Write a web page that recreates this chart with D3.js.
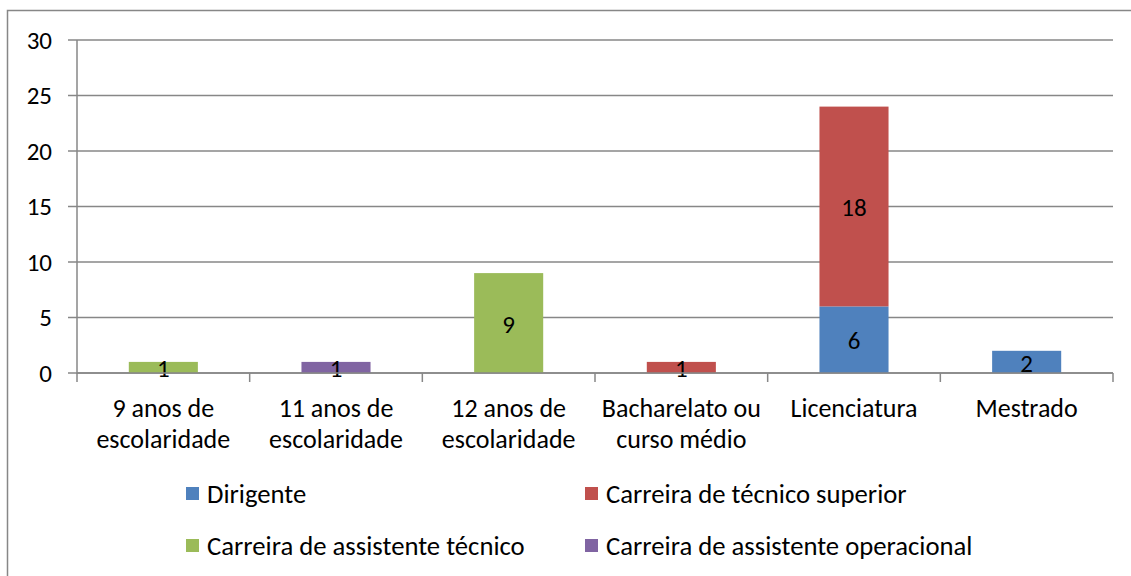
<!DOCTYPE html>
<html>
<head>
<meta charset="utf-8">
<script src="https://cdn.jsdelivr.net/npm/d3@7"></script>
<style>
  body { margin: 0; background: #fff; }
  text { font-family: Carlito, Calibri, "Liberation Sans", sans-serif; fill: #000; }
</style>
</head>
<body>
<script>
// categories and series
var categories = ["9 anos de|escolaridade", "11 anos de|escolaridade", "12 anos de|escolaridade",
                  "Bacharelato ou|curso médio", "Licenciatura", "Mestrado"];
var seriesNames = ["Dirigente", "Carreira de técnico superior", "Carreira de assistente técnico", "Carreira de assistente operacional"];
var seriesColors = ["#4f81bd", "#c0504d", "#9bbb59", "#8064a2"];
var dirigente = [0, 0, 0, 0, 6, 2];
var tecSuperior = [0, 0, 0, 1, 18, 0];
var assistTecnico = [1, 0, 9, 0, 0, 0];
var assistOperacional = [0, 1, 0, 0, 0, 0];
var yTicks = [0, 5, 10, 15, 20, 25, 30];

var width = 1131, height = 576;
var margin = {top: 40, left: 77, right: 18, bottom: 203};
var plot_w = width - margin.left - margin.right;
var plot_h = height - margin.top - margin.bottom;

var svg = d3.select("body").append("svg")
    .attr("width", width)
    .attr("height", height);

// outer border (only top/left visible in the original)
svg.append("rect")
    .attr("x", 7.5).attr("y", 10.5)
    .attr("width", width + 10).attr("height", height + 10)
    .attr("fill", "none").attr("stroke", "#878787").attr("stroke-width", 1.5);

var g = svg.append("g").attr("transform", "translate(" + margin.left + "," + margin.top + ")");

var xScale = d3.scaleBand().domain(d3.range(categories.length)).range([0, plot_w]).paddingInner(0.6).paddingOuter(0.3);
var xBound = d3.scaleLinear().domain([0, categories.length]).range([0, plot_w]);
var yScale = d3.scaleLinear().domain([0, 30]).range([plot_h, 0]);

// gridlines + y ticks
g.selectAll(".grid").data(yTicks).enter().append("line")
    .attr("x1", -9).attr("x2", plot_w)
    .attr("y1", function(d) { return yScale(d); })
    .attr("y2", function(d) { return yScale(d); })
    .attr("stroke", "#878787").attr("stroke-width", 1.5);

g.selectAll(".ylab").data(yTicks).enter().append("text")
    .attr("x", -25).attr("y", function(d) { return yScale(d); })
    .attr("dy", "0.35em").attr("text-anchor", "end")
    .style("font-size", "25px")
    .text(function(d) { return d; });

// y axis line
g.append("line").attr("x1", 0).attr("x2", 0).attr("y1", 0).attr("y2", plot_h + 1)
    .attr("stroke", "#878787").attr("stroke-width", 1.5);

// category separator ticks
g.selectAll(".xtick").data(d3.range(categories.length + 1)).enter().append("line")
    .attr("x1", function(d) { return xBound(d); })
    .attr("x2", function(d) { return xBound(d); })
    .attr("y1", plot_h).attr("y2", plot_h + 9)
    .attr("stroke", "#878787").attr("stroke-width", 1.5);

// stacked data
var table = categories.map(function(c, i) {
  return {i: i, s0: dirigente[i], s1: tecSuperior[i], s2: assistTecnico[i], s3: assistOperacional[i]};
});
var stack = d3.stack().keys(["s0", "s1", "s2", "s3"])(table);

stack.forEach(function(layer, k) {
  layer.forEach(function(d) {
    var v = d[1] - d[0];
    if (v <= 0) return;
    var x = xScale(d.data.i);
    g.append("rect")
        .attr("x", x).attr("width", xScale.bandwidth())
        .attr("y", yScale(d[1])).attr("height", yScale(d[0]) - yScale(d[1]))
        .attr("fill", seriesColors[k]);
    g.append("text")
        .attr("x", x + xScale.bandwidth() / 2)
        .attr("y", (yScale(d[0]) + yScale(d[1])) / 2 + 1)
        .attr("dy", "0.35em").attr("text-anchor", "middle")
        .style("font-size", "25px")
        .text(v);
  });
});

// x axis line (drawn over bars)
g.append("line").attr("x1", 0).attr("x2", plot_w).attr("y1", plot_h).attr("y2", plot_h)
    .attr("stroke", "#878787").attr("stroke-width", 1.5);

// category labels
categories.forEach(function(c, i) {
  var lines = c.split("|");
  var t = g.append("text")
      .attr("x", xScale(i) + xScale.bandwidth() / 2)
      .attr("y", plot_h + 44)
      .attr("text-anchor", "middle")
      .style("font-size", "26px");
  lines.forEach(function(l, j) {
    t.append("tspan").attr("x", xScale(i) + xScale.bandwidth() / 2)
        .attr("dy", j === 0 ? 0 : 31).text(l);
  });
});

// legend
var legendPos = [[186, 494], [585, 494], [186, 546], [585, 546]];
seriesNames.forEach(function(name, k) {
  svg.append("rect")
      .attr("x", legendPos[k][0]).attr("y", legendPos[k][1] - 7)
      .attr("width", 13).attr("height", 13)
      .attr("fill", seriesColors[k]);
  svg.append("text")
      .attr("x", legendPos[k][0] + 21).attr("y", legendPos[k][1])
      .attr("dy", "0.35em")
      .style("font-size", "26.7px")
      .text(name);
});
</script>
</body>
</html>
